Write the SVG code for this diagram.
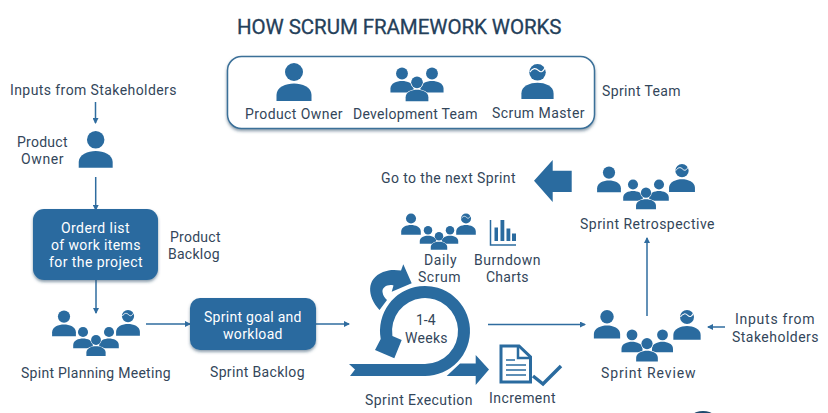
<svg xmlns="http://www.w3.org/2000/svg" width="828" height="413" viewBox="0 0 828 413">
<style>
text{font-family:Roboto,"Liberation Sans",sans-serif;font-size:14px;fill:#33465a;letter-spacing:.5px}
.w{fill:#fff}
.t{font-size:20.5px;font-weight:400;fill:#24405a;stroke:#24405a;stroke-width:.3px}
.c{fill:none;stroke:#2f6c9f;stroke-width:1.5}
.ic{fill:#2a6b9f}
.o{stroke:#fff;stroke-width:2;paint-order:stroke}
.box{fill:#2a6b9f;filter:url(#sh)}
</style>
<defs>
<filter id="sh" x="-10%" y="-10%" width="120%" height="125%"><feDropShadow dx="0" dy="2" stdDeviation="1.5" flood-color="#33506a" flood-opacity=".55"/></filter>
<marker id="a" markerWidth="6" markerHeight="6" refX="5" refY="3" orient="auto" markerUnits="userSpaceOnUse"><path d="M0 0L6 3L0 6Z" fill="#2f6c9f"/></marker>
<g id="p"><circle cx="0" cy="9" r="9"/><path d="M-17.5 38V32C-17.5 24-8 20.5 0 20.5S17.5 24 17.5 32V38Z"/></g>
<g id="m"><use href="#p"/><path d="M-8.5 9C-5 4-2 4 1 7S6 8 8.5 4" fill="none" stroke="#fff" stroke-width="1.3"/></g>
</defs>
<rect width="828" height="413" fill="#fff"/>
<text class="t" x="237" y="34" textLength="325">HOW SCRUM FRAMEWORK WORKS</text>

<g id="connectors">
<path class="c" d="M95.5 102V123" marker-end="url(#a)"/>
<path class="c" d="M95.7 177V210" marker-end="url(#a)"/>
<path class="c" d="M96 280V313" marker-end="url(#a)"/>
<path class="c" d="M146 324H190" marker-end="url(#a)"/>
<path class="c" d="M316 324H349" marker-end="url(#a)"/>
<path class="c" d="M488 324.5H585" marker-end="url(#a)"/>
<path class="c" d="M647 316V238" marker-end="url(#a)"/>
<path class="c" d="M725 327H708" marker-end="url(#a)"/>
</g>

<g id="sprint-team">
<rect x="227.5" y="56.5" width="367" height="72" rx="14" fill="#fff" stroke="#3a6f98" stroke-width="1.5" filter="url(#sh)"/>
<g class="ic">
<use href="#p" transform="translate(294 63)"/>
<use href="#p" transform="translate(402 67.5) scale(.66)"/>
<use href="#p" transform="translate(432 67.5) scale(.66)"/>
<g class="o"><use href="#p" transform="translate(417 76.5) scale(.65)"/></g>
<use href="#m" transform="translate(537.5 64) scale(.92)"/>
</g>
<text x="245" y="119" textLength="98">Product Owner</text>
<text x="353" y="119" textLength="125">Development Team</text>
<text x="492" y="118" textLength="93">Scrum Master</text>
</g>
<text x="602" y="96" textLength="79">Sprint Team</text>

<g id="stakeholder-inputs"><text x="10" y="95" textLength="167">Inputs from Stakeholders</text></g>
<g id="product-owner">
<use class="ic" href="#p" transform="translate(95.7 131) scale(.97)"/>
<text x="17" y="146.5" textLength="51">Product</text>
<text x="21" y="164" textLength="43">Owner</text>
</g>
<g id="product-backlog">
<rect class="box" x="33" y="209" width="125" height="71" rx="11"/>
<text class="w" x="61" y="232.7" textLength="69">Orderd list</text>
<text class="w" x="51" y="250" textLength="90">of work items</text>
<text class="w" x="49" y="267" textLength="94">for the project</text>
<text x="170" y="241.7" textLength="51">Product</text>
<text x="168" y="259" textLength="52">Backlog</text>
</g>
<g id="planning-meeting">
<g class="ic">
<use href="#p" transform="translate(64 310.5) scale(.68)"/>
<use href="#m" transform="translate(128 310) scale(.68)"/>
<g class="o">
<use href="#p" transform="translate(83 327) scale(.56)"/>
<use href="#p" transform="translate(109 327) scale(.56)"/>
<use href="#p" transform="translate(96 335) scale(.55)"/>
</g>
</g>
<text x="21" y="378" textLength="150">Spint Planning Meeting</text>
</g>
<g id="sprint-backlog">
<rect class="box" x="190" y="298" width="126" height="52" rx="10"/>
<text class="w" x="204" y="321.7" textLength="98">Sprint goal and</text>
<text class="w" x="223" y="339" textLength="60">workload</text>
<text x="210" y="377" textLength="95">Sprint Backlog</text>
</g>
<g id="daily-scrum">
<g class="ic">
<use href="#p" transform="translate(411 213.5) scale(.56)"/>
<use href="#m" transform="translate(466 213.5) scale(.56)"/>
<g class="o">
<use href="#p" transform="translate(428 226) scale(.47)"/>
<use href="#p" transform="translate(450 226) scale(.47)"/>
<use href="#p" transform="translate(439 232) scale(.47)"/>
</g>
</g>
<text x="424" y="265" textLength="33">Daily</text>
<text x="418" y="282" textLength="43">Scrum</text>
</g>
<g id="burndown">
<path d="M490.5 220V245H516" fill="none" stroke="#2a6b9f" stroke-width="1.5"/>
<g class="ic">
<rect x="494.5" y="227.5" width="3.5" height="13.5"/>
<rect x="500.5" y="220" width="3.8" height="21"/>
<rect x="506.5" y="228.5" width="3.8" height="12.5"/>
<rect x="512" y="233.5" width="4" height="7.5"/>
</g>
<text x="474" y="265" textLength="67">Burndown</text>
<text x="486" y="282" textLength="43">Charts</text>
</g>
<g id="sprint-execution">
<path class="ic" d="M349 364H425A33 33 0 1 0 392.4 336L401.7 340L394.3 358.3L375 350L380.7 339A45 45 0 1 1 425 376H350L355 369.5Z"/>
<path class="ic" d="M379.5 310C367 296 366 279 383 272C389 269.5 395 269.5 401 270.5L403.3 264.3L411.7 283.3L391.7 291.7L393.5 285.5C388 284 382 287 382.5 292C383 296 385 298 387 300Z"/>
<path class="ic" d="M446.7 376L460 363.5H475.7V355L489 369.5L475.7 385V376Z"/>
<text x="416" y="325" textLength="20">1-4</text>
<text x="405" y="342.7" textLength="43">Weeks</text>
<text x="365" y="405" textLength="108">Sprint Execution</text>
</g>
<g id="increment">
<path d="M501 346H519L530.5 357V382H501Z" fill="#fff" stroke="#2a6b9f" stroke-width="3"/>
<path d="M518 346V358H530.5" fill="none" stroke="#2a6b9f" stroke-width="2.5"/>
<path d="M506 360H515M506 365H526M506 370H526M506 375H526" stroke="#2a6b9f" stroke-width="1.6"/>
<path d="M533 376L543 384L561 366" fill="none" stroke="#2a6b9f" stroke-width="3.5"/>
<text x="489" y="403" textLength="67">Increment</text>
</g>
<g id="sprint-review">
<g class="ic">
<use href="#p" transform="translate(607 310) scale(.75)"/>
<use href="#m" transform="translate(687 310) scale(.78)"/>
<g class="o">
<use href="#p" transform="translate(632 329.5) scale(.6)"/>
<use href="#p" transform="translate(662.5 329.5) scale(.6)"/>
<use href="#p" transform="translate(647 338) scale(.62)"/>
</g>
</g>
<text x="601" y="378" textLength="95">Sprint Review</text>
</g>
<text x="735" y="324" textLength="80">Inputs from</text>
<text x="732" y="342" textLength="87">Stakeholders</text>
<g id="sprint-retrospective">
<g class="ic">
<use href="#p" transform="translate(609 166.5) scale(.68)"/>
<use href="#m" transform="translate(682 164) scale(.74)"/>
<g class="o">
<use href="#p" transform="translate(633 179.5) scale(.56)"/>
<use href="#p" transform="translate(659 179.5) scale(.56)"/>
<use href="#p" transform="translate(646 187.5) scale(.57)"/>
</g>
</g>
<text x="580" y="229" textLength="135">Sprint Retrospective</text>
</g>
<g id="next-sprint">
<path class="ic" d="M534 180.7L552.7 160V170.7H571.7V192H552.7V202Z"/>
<text x="381" y="183" textLength="135">Go to the next Sprint</text>
</g>
<ellipse cx="703" cy="414" rx="9" ry="3" fill="#1f4a6e"/>
</svg>
